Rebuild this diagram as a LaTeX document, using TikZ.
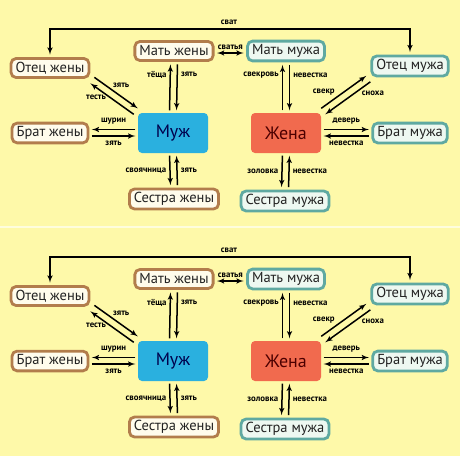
\documentclass[tikz,border=0pt]{standalone}
\usepackage{fontspec}
\setmainfont{PT Sans}
\usetikzlibrary{arrows,calc,positioning}

\definecolor{bgyellow}{HTML}{FEF9A9}
\definecolor{brownrim}{HTML}{B27D4C}
\definecolor{cream}{HTML}{FFFCEC}
\definecolor{tealrim}{HTML}{5FA9A1}
\definecolor{mint}{HTML}{EEF8F1}
\definecolor{husbblue}{HTML}{2AB0DF}
\definecolor{wifered}{HTML}{F16A4E}
\definecolor{boxtext}{HTML}{222222}

\begin{document}
\begin{tikzpicture}[x=1pt, y=-1pt]
        \tikzstyle{wside} = [rectangle, draw=brownrim, fill=cream, line width=2.8pt,
        rounded corners=5pt, inner xsep=4.5pt, minimum height=19pt, text=boxtext,
        font=\fontsize{14.5}{15}\selectfont]
        \tikzstyle{hside} = [wside, draw=tealrim, fill=mint]
        \tikzstyle{spouse} = [rectangle, rounded corners=4pt, minimum width=70pt,
        minimum height=40pt, font=\fontsize{18}{19}\selectfont]
        \tikzset{line/.style={draw, line width=1.5pt, color=black, -latex', shorten >=2.5pt, shorten <=2.5pt}}
        \tikzset{lbl/.style={font=\bfseries\fontsize{8.8}{9}\selectfont, inner sep=1pt}}

        \fill [bgyellow] (0,0) rectangle (460,456);
        \useasboundingbox (0,0) rectangle (460,456);
        \draw [white!60!bgyellow, line width=1.5pt] (0,227) -- (460,227);

        \foreach \k/\dy in {a/0, b/228} {
        \begin{scope}[shift={(0,\dy)}]
        % husband and his wife
        \node [spouse, fill=husbblue, text=blue!30!black] (\k-muzh) at (173,133) {Муж};
        \node [spouse, fill=wifered, text=red!30!black] (\k-zhena) at (286,133) {Жена};
        % wife's kin
        \node [wside] (\k-otzh) at (50,68) {Отец жены};
        \node [wside] (\k-matzh) at (174,51) {Мать жены};
        \node [wside] (\k-bratzh) at (50,133) {Брат жены};
        \node [wside] (\k-sestzh) at (174,199) {Сестра жены};
        % husband's kin
        \node [hside] (\k-otm) at (410,66) {Отец мужа};
        \node [hside] (\k-matm) at (286,51) {Мать мужа};
        \node [hside] (\k-bratm) at (410,133) {Брат мужа};
        \node [hside] (\k-sestm) at (285,201) {Сестра мужа};

        \coordinate (\k-top) at (229,29);
        \path [line, latex'-latex'] (\k-otzh.north) |- (\k-top) -| (\k-otm.north);
        \node [lbl, above=3pt] (\k-svat) at (\k-top) {сват};
        \path [line, latex'-latex'] ([yshift=-2pt]\k-matzh.east) -- node [lbl, above=2pt] {сватья} ([yshift=-2pt]\k-matm.west);

        \path [line] ([xshift=-3.5pt]\k-muzh.north) -- node [lbl, pos=0.75, left=2pt] {тёща} ([xshift=-3.5pt]\k-matzh.south);
        \path [line] ([xshift=3.5pt]\k-matzh.south) -- node [lbl, pos=0.25, right=2pt] {зять} ([xshift=3.5pt]\k-muzh.north);
        \path [line] ([shift={(2,-3)}]\k-otzh.south east) -- node [lbl, pos=0.4, above right] {зять} ([shift={(2,-3)}]\k-muzh.north west);
        \path [line] ([shift={(-2,3)}]\k-muzh.north west) -- node [lbl, pos=0.55, left=2pt] {тесть} ([shift={(-2,3)}]\k-otzh.south east);
        \path [line] ([yshift=3.5pt]\k-muzh.west) -- node [lbl, above=3pt] {шурин} ([yshift=3.5pt]\k-bratzh.east);
        \path [line] ([yshift=-3pt]\k-bratzh.east) -- node [lbl, below=3pt] {зять} ([yshift=-3pt]\k-muzh.west);
        \path [line] ([xshift=-3.5pt]\k-muzh.south) -- node [lbl, left=2pt] {своячница} ([xshift=-3.5pt]\k-sestzh.north);
        \path [line] ([xshift=3.5pt]\k-sestzh.north) -- node [lbl, right=2pt] {зять} ([xshift=3.5pt]\k-muzh.south);

        \path [line] ([xshift=-3.5pt]\k-zhena.north) -- node [lbl, pos=0.75, left=2pt] {свекровь} ([xshift=-3.5pt]\k-matm.south);
        \path [line] ([xshift=3.5pt]\k-matm.south) -- node [lbl, pos=0.25, right=2pt] {невестка} ([xshift=3.5pt]\k-zhena.north);
        \path [line] ([shift={(-2,-3)}]\k-zhena.north east) -- node [lbl, pos=0.35, above left] {свекр} ([shift={(-2,-3)}]\k-otm.south west);
        \path [line] ([shift={(2,3)}]\k-otm.south west) -- node [lbl, pos=0.25, below right] {сноха} ([shift={(2,3)}]\k-zhena.north east);
        \path [line] ([yshift=3.5pt]\k-zhena.east) -- node [lbl, above=3pt] {деверь} ([yshift=3.5pt]\k-bratm.west);
        \path [line] ([yshift=-3pt]\k-bratm.west) -- node [lbl, below=3pt] {невестка} ([yshift=-3pt]\k-zhena.east);
        \path [line] ([xshift=-3.5pt]\k-zhena.south) -- node [lbl, left=2pt] {золовка} ([xshift=-3.5pt]\k-sestm.north);
        \path [line] ([xshift=3.5pt]\k-sestm.north) -- node [lbl, right=2pt] {невестка} ([xshift=3.5pt]\k-zhena.south);
        \end{scope}
        }
\end{tikzpicture}
\end{document}
